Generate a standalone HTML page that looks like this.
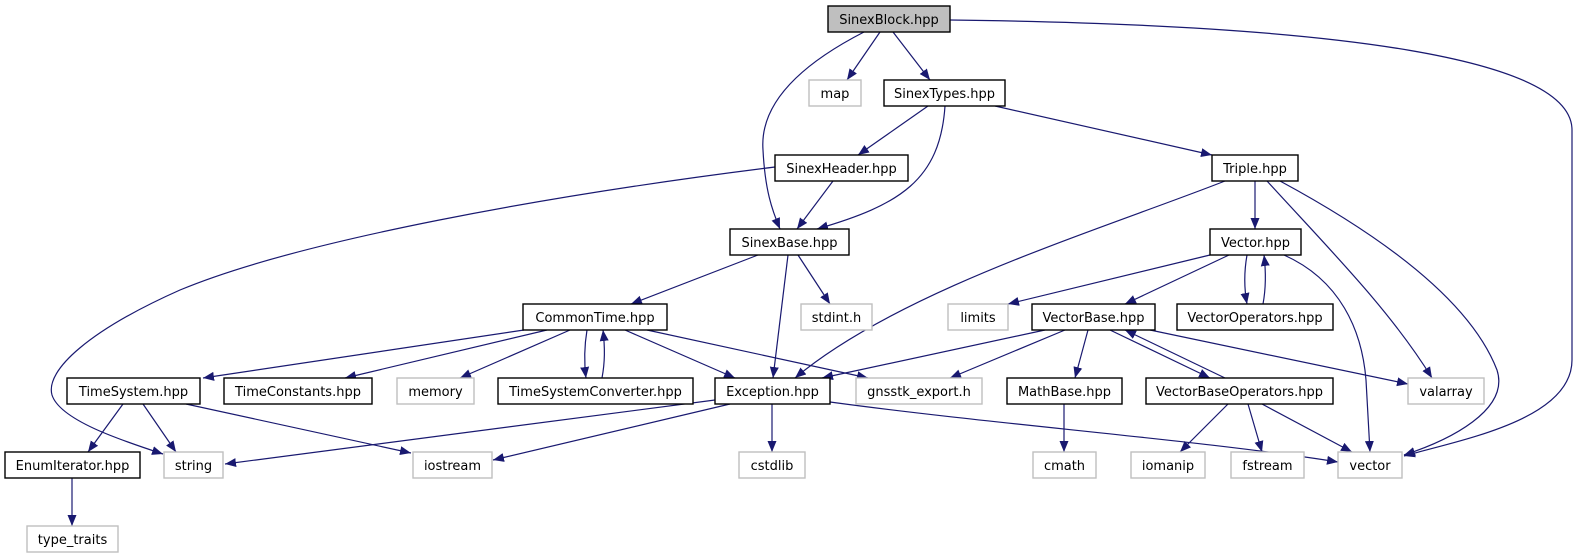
<!DOCTYPE html>
<html><head><meta charset="utf-8"><style>
html,body{margin:0;padding:0;background:#fff;width:1578px;height:560px;overflow:hidden}
svg{display:block}
text{font-family:"DejaVu Sans","Liberation Sans",sans-serif;font-size:13px;fill:#000}
.n{fill:#fff;stroke:#000;stroke-width:1.4}
.g{fill:#fff;stroke:#bfbfbf;stroke-width:1.4}
.e{fill:none;stroke:#191970;stroke-width:1.2;marker-end:url(#a)}
</style></head><body>
<svg width="1578" height="560" viewBox="0 0 1578 560">
<defs><marker id="a" markerWidth="12" markerHeight="10" refX="11" refY="5" orient="auto" markerUnits="userSpaceOnUse"><path d="M0,0.5 L11,5 L0,9.5 z" fill="#191970"/></marker></defs>
<g>
<path class="e" d="M950,20 C1350,25 1572,60 1572,130 L1572,360 C1572,420 1460,440 1404,456"/>
<path class="e" d="M864,32 C790,70 760,110 763,150 C765,190 772,210 780,229"/>
<path class="e" d="M880,32 L847,80"/>
<path class="e" d="M893,32 L930,80"/>
<path class="e" d="M928,106 L858,155"/>
<path class="e" d="M945,106 C940,180 900,205 817,229"/>
<path class="e" d="M995,106 L1212,155"/>
<path class="e" d="M775,167 C550,195 300,240 180,290 C90,330 45,370 52,395 C60,420 120,440 163,454"/>
<path class="e" d="M833,181 L797,229"/>
<path class="e" d="M1225,181 C1100,230 900,290 795,378"/>
<path class="e" d="M1255,181 L1255,229"/>
<path class="e" d="M1267,181 C1330,250 1390,310 1432,378"/>
<path class="e" d="M1280,181 C1380,235 1470,300 1497,370 C1510,410 1450,440 1404,455"/>
<path class="e" d="M1210,255 L1008,304"/>
<path class="e" d="M1229,255 L1125,304"/>
<path class="e" d="M1247,255 C1244,272 1244,288 1247,304"/>
<path class="e" d="M1263,304 C1266,288 1266,272 1264,255"/>
<path class="e" d="M1284,255 C1340,280 1362,330 1366,380 L1370,452"/>
<path class="e" d="M758,255 L631,304"/>
<path class="e" d="M798,255 L830,304"/>
<path class="e" d="M788,255 L773,378"/>
<path class="e" d="M524,330 L203,378"/>
<path class="e" d="M547,330 L345,378"/>
<path class="e" d="M570,330 L460,378"/>
<path class="e" d="M587,330 C584,348 584,362 586,378"/>
<path class="e" d="M602,378 C605,362 605,348 603,330"/>
<path class="e" d="M625,330 L735,378"/>
<path class="e" d="M647,330 L868,378"/>
<path class="e" d="M123,404 L88,452"/>
<path class="e" d="M143,404 L176,452"/>
<path class="e" d="M186,404 L411,453"/>
<path class="e" d="M72,478 L72,526"/>
<path class="e" d="M715,400 L225,464"/>
<path class="e" d="M730,404 L493,460"/>
<path class="e" d="M772,404 L772,452"/>
<path class="e" d="M830,402 C1000,425 1200,440 1338,462"/>
<path class="e" d="M1045,330 L822,378"/>
<path class="e" d="M1065,330 L950,378"/>
<path class="e" d="M1088,330 L1075,378"/>
<path class="e" d="M1110,330 L1210,378"/>
<path class="e" d="M1225,378 L1125,330"/>
<path class="e" d="M1150,330 L1408,384"/>
<path class="e" d="M1064,404 L1064,452"/>
<path class="e" d="M1228,404 L1180,452"/>
<path class="e" d="M1248,404 L1262,452"/>
<path class="e" d="M1262,404 L1352,452"/>
</g>
<g text-anchor="middle">
<rect x="828" y="6" width="122" height="26" fill="#bfbfbf" stroke="#000" stroke-width="1.4"/><text x="889" y="24">SinexBlock.hpp</text>
<rect class="g" x="809" y="80" width="52" height="26"/><text x="835" y="98">map</text>
<rect class="n" x="884" y="80" width="121" height="26"/><text x="944.5" y="98">SinexTypes.hpp</text>
<rect class="n" x="775" y="155" width="133" height="26"/><text x="841.5" y="173">SinexHeader.hpp</text>
<rect class="n" x="1212" y="155" width="86" height="26"/><text x="1255" y="173">Triple.hpp</text>
<rect class="n" x="730" y="229" width="119" height="26"/><text x="789.5" y="247">SinexBase.hpp</text>
<rect class="n" x="1210" y="229" width="91" height="26"/><text x="1255.5" y="247">Vector.hpp</text>
<rect class="n" x="523" y="304" width="144" height="26"/><text x="595" y="322">CommonTime.hpp</text>
<rect class="g" x="801" y="304" width="71" height="26"/><text x="836.5" y="322">stdint.h</text>
<rect class="g" x="948" y="304" width="60" height="26"/><text x="978" y="322">limits</text>
<rect class="n" x="1032" y="304" width="123" height="26"/><text x="1093.5" y="322">VectorBase.hpp</text>
<rect class="n" x="1177" y="304" width="156" height="26"/><text x="1255" y="322">VectorOperators.hpp</text>
<rect class="n" x="67" y="378" width="133" height="26"/><text x="133.5" y="396">TimeSystem.hpp</text>
<rect class="n" x="224" y="378" width="148" height="26"/><text x="298" y="396">TimeConstants.hpp</text>
<rect class="g" x="397" y="378" width="77" height="26"/><text x="435.5" y="396">memory</text>
<rect class="n" x="498" y="378" width="195" height="26"/><text x="595.5" y="396">TimeSystemConverter.hpp</text>
<rect class="n" x="715" y="378" width="115" height="26"/><text x="772.5" y="396">Exception.hpp</text>
<rect class="g" x="856" y="378" width="126" height="26"/><text x="919" y="396">gnsstk_export.h</text>
<rect class="n" x="1007" y="378" width="115" height="26"/><text x="1064.5" y="396">MathBase.hpp</text>
<rect class="n" x="1146" y="378" width="187" height="26"/><text x="1239.5" y="396">VectorBaseOperators.hpp</text>
<rect class="g" x="1408" y="378" width="76" height="26"/><text x="1446" y="396">valarray</text>
<rect class="n" x="5" y="452" width="135" height="26"/><text x="72.5" y="470">EnumIterator.hpp</text>
<rect class="g" x="164" y="452" width="59" height="26"/><text x="193.5" y="470">string</text>
<rect class="g" x="413" y="452" width="79" height="26"/><text x="452.5" y="470">iostream</text>
<rect class="g" x="739" y="452" width="66" height="26"/><text x="772" y="470">cstdlib</text>
<rect class="g" x="1033" y="452" width="63" height="26"/><text x="1064.5" y="470">cmath</text>
<rect class="g" x="1131" y="452" width="74" height="26"/><text x="1168" y="470">iomanip</text>
<rect class="g" x="1231" y="452" width="73" height="26"/><text x="1267.5" y="470">fstream</text>
<rect class="g" x="1338" y="452" width="64" height="26"/><text x="1370" y="470">vector</text>
<rect class="g" x="27" y="526" width="91" height="26"/><text x="72.5" y="544">type_traits</text>
</g>
</svg>
</body></html>
